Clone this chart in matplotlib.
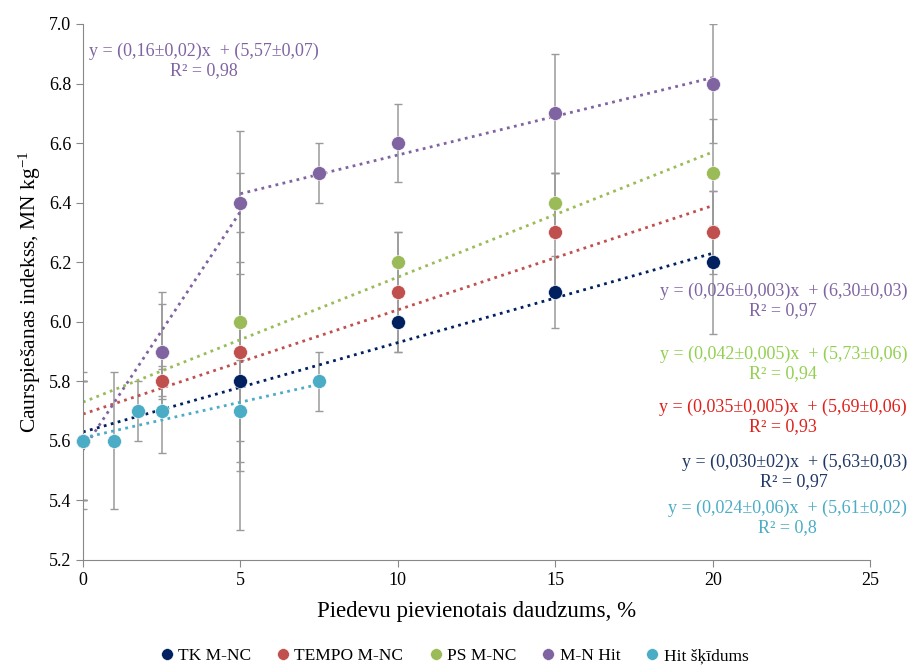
import numpy as np
import matplotlib
matplotlib.use('Agg')
import matplotlib.pyplot as plt

plt.rcParams['font.family'] = ['Liberation Serif', 'DejaVu Serif']
plt.rcParams['mathtext.fontset'] = 'custom'
plt.rcParams['mathtext.rm'] = 'Liberation Serif'
plt.rcParams['mathtext.default'] = 'regular'

# Series data (x = additive amount %, y = index, err = error bar half-width)
names = ['TK M-NC', 'TEMPO M-NC', 'PS M-NC', 'M-N Hit', 'Hit šķīdums']
colors = ['#002060', '#C0504D', '#9BBB59', '#8064A2', '#4BACC6']
text_colors = ['#203864', '#E0201B', '#92D050', '#8064A2', '#4BACC6']

tk_x = [0, 5, 10, 15, 20]
tk_y = [5.6, 5.8, 6.0, 6.1, 6.2]
tk_err = [0.2, 0.5, 0.1, 0.12, 0.24]

tempo_x = [0, 2.5, 5, 10, 15, 20]
tempo_y = [5.6, 5.8, 5.9, 6.1, 6.3, 6.3]
tempo_err = [0.2, 0.05, 0.3, 0.2, 0.2, 0.14]

ps_x = [0, 2.5, 5, 10, 15, 20]
ps_y = [5.6, 5.9, 6.0, 6.2, 6.4, 6.5]
ps_err = [0.2, 0.16, 0.5, 0.1, 0.1, 0.18]

mn_x = [0, 2.5, 5, 7.5, 10, 15, 20]
mn_y = [5.6, 5.9, 6.4, 6.5, 6.6, 6.7, 6.8]
mn_err = [0.2, 0.2, 0.24, 0.1, 0.13, 0.2, 0.2]

hit_x = [0, 1, 1.75, 2.5, 5, 7.5]
hit_y = [5.6, 5.6, 5.7, 5.7, 5.7, 5.8]
hit_err = [0.23, 0.23, 0.1, 0.14, 0.17, 0.1]

# Trend lines: (series index, slope, intercept, x start, x end)
trends = [
    (0, 0.030, 5.63, 0, 20),
    (1, 0.035, 5.69, 0, 20),
    (2, 0.042, 5.73, 0, 20),
    (3, 0.16, 5.57, 0, 5),
    (3, 0.026, 6.30, 5, 20),
    (4, 0.024, 5.61, 0, 7.5),
]

eq_texts = [
    'y = (0,030±02)x  + (5,63±0,03)\nR² = 0,97',
    'y = (0,035±0,005)x  + (5,69±0,06)\nR² = 0,93',
    'y = (0,042±0,005)x  + (5,73±0,06)\nR² = 0,94',
    'y = (0,16±0,02)x  + (5,57±0,07)\nR² = 0,98',
    'y = (0,026±0,003)x  + (6,30±0,03)\nR² = 0,97',
    'y = (0,024±0,06)x  + (5,61±0,02)\nR² = 0,8',
]

series = [(tk_x, tk_y, tk_err), (tempo_x, tempo_y, tempo_err), (ps_x, ps_y, ps_err),
          (mn_x, mn_y, mn_err), (hit_x, hit_y, hit_err)]

fig = plt.figure(figsize=(9.09, 6.68), dpi=100)
ax = fig.add_axes([0.0913, 0.1617, 0.866, 0.8024])

# error bars
for x, y, e in series:
    ax.errorbar(x, y, yerr=e, fmt='none', ecolor='#9A9A9A', elinewidth=1.1,
                capsize=3, capthick=1, zorder=1)

# trend lines
for idx, k, b, x0, x1 in trends:
    xs = np.array([x0, x1])
    ax.plot(xs, k * xs + b, color=colors[idx], linestyle=(0, (1, 1.6)), lw=2, zorder=2)

# markers
handles = []
for (x, y, e), c, n in zip(series, colors, names):
    h, = ax.plot(x, y, 'o', color=c, markersize=10, markeredgecolor='white',
                 markeredgewidth=0.4, label=n, zorder=3, clip_on=False)
    handles.append(h)

ax.set_xlim(0, 25)
ax.set_ylim(5.2, 7.0)
ax.set_xticks(np.arange(0, 26, 5))
ax.set_yticks(np.arange(5.2, 7.01, 0.2))
ax.set_yticklabels(['%.1f' % v for v in np.arange(5.2, 7.01, 0.2)])
ax.tick_params(labelsize=13, color='#888888', length=5, direction='out')
for s in ['top', 'right']:
    ax.spines[s].set_visible(False)
for s in ['left', 'bottom']:
    ax.spines[s].set_color('#888888')

ax.set_xlabel('Piedevu pievienotais daudzums, %', fontsize=16.5, labelpad=9)
ax.set_ylabel('Caurspiešanas indekss, MN kg$^{-1}$', fontsize=15.5, labelpad=4)

# equation labels
fig.text(204 / 909, 1 - 61 / 668, eq_texts[3], color=text_colors[3], fontsize=13,
         ha='center', va='center', multialignment='center', linespacing=1.15)
right_pos = [(4, 301), (2, 364), (1, 417), (0, 472), (5, 518)]
for i, ypx in right_pos:
    c = text_colors[trends[i][0]]
    fig.text(907 / 909, 1 - ypx / 668, eq_texts[i], color=c, fontsize=13,
             ha='right', va='center', multialignment='center', linespacing=1.15)

fig.legend(handles=handles, loc='center', bbox_to_anchor=(0.5, 1 - 656 / 668), ncol=5,
           frameon=False, fontsize=12.5, handlelength=0.7, handletextpad=0.3,
           columnspacing=1.5, markerscale=0.85)

fig.savefig('out.png', dpi=100)
